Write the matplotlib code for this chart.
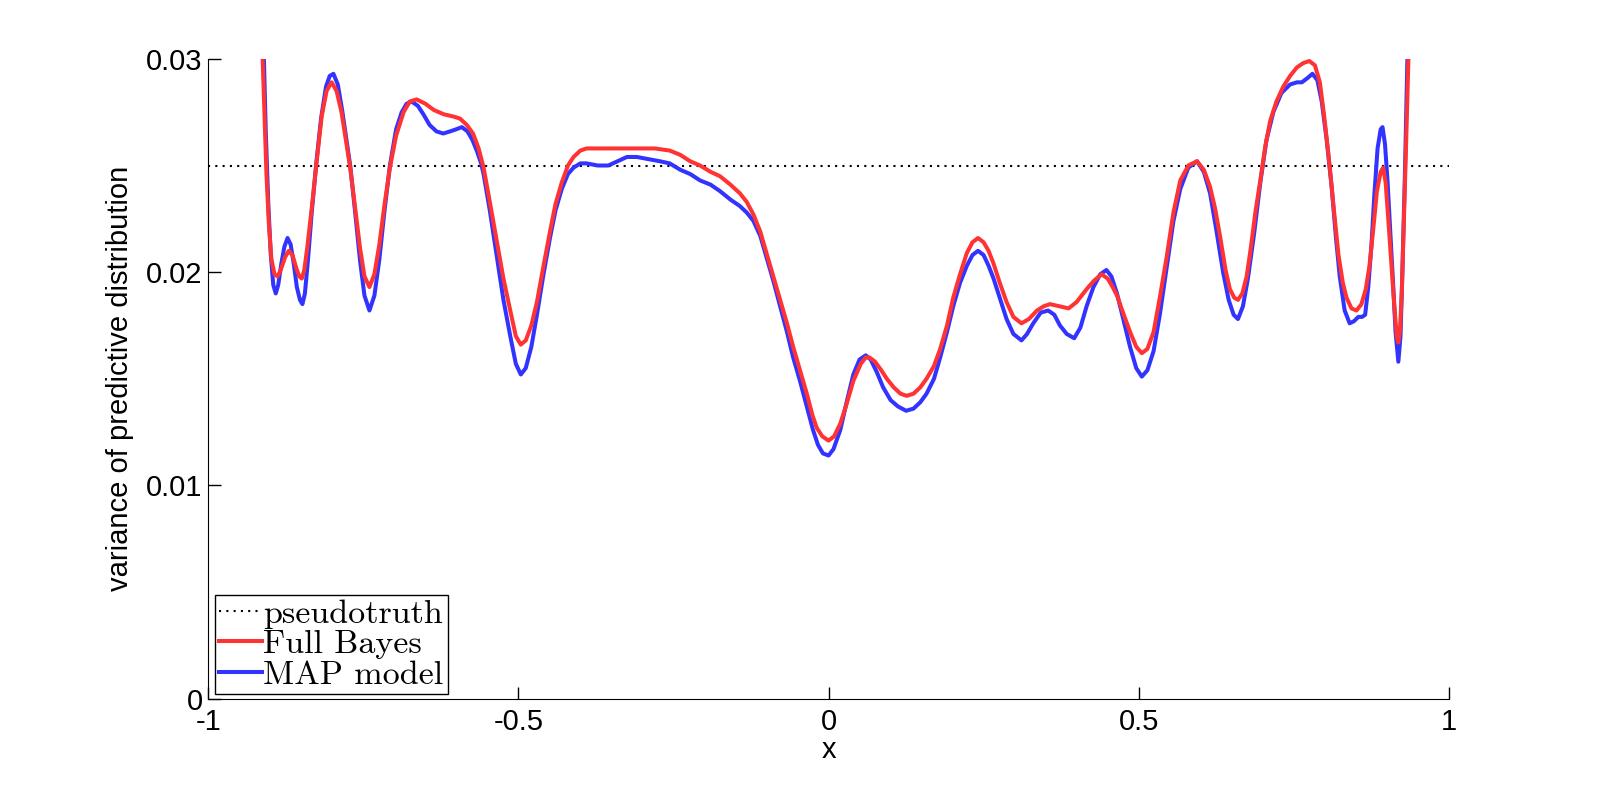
import numpy as np
import matplotlib
matplotlib.use("Agg")
from matplotlib import pyplot as plt

# values
pseudotruth = 0.025

x_full = [-0.915, -0.912, -0.909, -0.906, -0.902, -0.898, -0.893, -0.888, -0.883, -0.876,
          -0.870, -0.864, -0.858, -0.853, -0.849, -0.845, -0.840, -0.833, -0.825, -0.817,
          -0.809, -0.801, -0.793, -0.785, -0.778, -0.771, -0.763, -0.755, -0.748, -0.740,
          -0.732, -0.724, -0.716, -0.707, -0.697, -0.685, -0.675, -0.664, -0.650, -0.636,
          -0.620, -0.605, -0.594, -0.583, -0.573, -0.564, -0.556, -0.546, -0.535, -0.524,
          -0.513, -0.504, -0.496, -0.488, -0.479, -0.470, -0.460, -0.449, -0.440, -0.430,
          -0.420, -0.411, -0.400, -0.390, -0.370, -0.350, -0.325, -0.304, -0.280, -0.256,
          -0.239, -0.223, -0.207, -0.190, -0.175, -0.158, -0.143, -0.132, -0.121, -0.110,
          -0.100, -0.089, -0.078, -0.067, -0.057, -0.046, -0.035, -0.026, -0.019, -0.010,
          0.000, 0.009, 0.019, 0.030, 0.040, 0.052, 0.060, 0.066, 0.075, 0.085,
          0.094, 0.105, 0.116, 0.126, 0.137, 0.148, 0.158, 0.170, 0.180, 0.191,
          0.201, 0.212, 0.223, 0.232, 0.241, 0.250, 0.258, 0.266, 0.276, 0.287,
          0.298, 0.311, 0.323, 0.336, 0.347, 0.357, 0.372, 0.387, 0.400, 0.416,
          0.428, 0.440, 0.450, 0.458, 0.465, 0.476, 0.486, 0.496, 0.505, 0.514,
          0.524, 0.534, 0.545, 0.556, 0.567, 0.580, 0.594, 0.605, 0.615, 0.623,
          0.631, 0.640, 0.647, 0.654, 0.660, 0.667, 0.674, 0.681, 0.688, 0.696,
          0.704, 0.712, 0.722, 0.733, 0.744, 0.755, 0.765, 0.775, 0.784, 0.792,
          0.799, 0.804, 0.808, 0.815, 0.822, 0.829, 0.835, 0.843, 0.851, 0.859,
          0.866, 0.872, 0.878, 0.884, 0.890, 0.894, 0.898, 0.902, 0.907, 0.912,
          0.916, 0.9185, 0.921, 0.924, 0.927, 0.931, 0.9346, 0.937]
y_full = [0.0315, 0.0299, 0.0272, 0.0246, 0.0222, 0.0206, 0.0199, 0.0198, 0.0201, 0.0207,
          0.0210, 0.0208, 0.0202, 0.0198, 0.0197, 0.0201, 0.0212, 0.0230, 0.0252, 0.0273,
          0.0285, 0.0289, 0.0285, 0.0275, 0.0262, 0.0249, 0.0230, 0.0211, 0.0198, 0.0193,
          0.0199, 0.0213, 0.0231, 0.0249, 0.0264, 0.0275, 0.0280, 0.0281, 0.0279, 0.0276,
          0.0274, 0.0273, 0.0272, 0.0269, 0.0265, 0.0258, 0.0249, 0.0233, 0.0215, 0.0197,
          0.0182, 0.0170, 0.0166, 0.0168, 0.0175, 0.0186, 0.0202, 0.0219, 0.0232, 0.0242,
          0.0250, 0.0254, 0.0257, 0.0258, 0.0258, 0.0258, 0.0258, 0.0258, 0.0258, 0.0257,
          0.0255, 0.0252, 0.0250, 0.0247, 0.0245, 0.0241, 0.0237, 0.0233, 0.0227, 0.0219,
          0.0209, 0.0198, 0.0187, 0.0176, 0.0165, 0.0154, 0.0143, 0.0133, 0.0127, 0.0123,
          0.0121, 0.0123, 0.0129, 0.0139, 0.0149, 0.0157, 0.0160, 0.0160, 0.0158, 0.0154,
          0.0150, 0.0146, 0.0143, 0.0142, 0.0143, 0.0146, 0.0150, 0.0156, 0.0164, 0.0175,
          0.0188, 0.0199, 0.0209, 0.0214, 0.0216, 0.0214, 0.0210, 0.0204, 0.0195, 0.0186,
          0.0179, 0.0176, 0.0178, 0.0182, 0.0184, 0.0185, 0.0184, 0.0183, 0.0186, 0.0192,
          0.0196, 0.0199, 0.0197, 0.0193, 0.0189, 0.0180, 0.0172, 0.0165, 0.0162, 0.0164,
          0.0172, 0.0188, 0.0207, 0.0228, 0.0243, 0.0250, 0.0252, 0.0248, 0.0240, 0.0230,
          0.0217, 0.0201, 0.0192, 0.0188, 0.0187, 0.0190, 0.0198, 0.0212, 0.0228, 0.0243,
          0.0259, 0.0271, 0.0280, 0.0287, 0.0292, 0.0296, 0.0298, 0.0299, 0.0297, 0.0289,
          0.0273, 0.0260, 0.0249, 0.0228, 0.0208, 0.0195, 0.0188, 0.0183, 0.0182, 0.0185,
          0.0192, 0.0203, 0.0220, 0.0238, 0.0247, 0.0249, 0.0242, 0.0226, 0.0205, 0.0184,
          0.0170, 0.0167, 0.0172, 0.0190, 0.0220, 0.0260, 0.0299, 0.0315]

x_map = [-0.913, -0.910, -0.907, -0.903, -0.899, -0.895, -0.891, -0.887, -0.882, -0.877,
         -0.872, -0.867, -0.862, -0.857, -0.852, -0.848, -0.844, -0.839, -0.833, -0.825,
         -0.818, -0.810, -0.804, -0.798, -0.791, -0.784, -0.777, -0.771, -0.763, -0.755,
         -0.748, -0.740, -0.732, -0.724, -0.716, -0.707, -0.697, -0.688, -0.680, -0.672,
         -0.662, -0.653, -0.643, -0.632, -0.621, -0.610, -0.600, -0.591, -0.582, -0.574,
         -0.567, -0.560, -0.556, -0.546, -0.535, -0.524, -0.513, -0.504, -0.496, -0.488,
         -0.479, -0.470, -0.460, -0.449, -0.440, -0.430, -0.420, -0.411, -0.400, -0.390,
         -0.372, -0.355, -0.340, -0.325, -0.309, -0.290, -0.272, -0.256, -0.239, -0.223,
         -0.207, -0.190, -0.175, -0.158, -0.143, -0.132, -0.121, -0.110, -0.100, -0.089,
         -0.078, -0.067, -0.057, -0.046, -0.035, -0.025, -0.017, -0.009, 0.000, 0.008,
         0.019, 0.030, 0.040, 0.050, 0.060, 0.068, 0.078, 0.088, 0.100, 0.112,
         0.125, 0.137, 0.148, 0.158, 0.170, 0.180, 0.191, 0.201, 0.212, 0.223,
         0.232, 0.241, 0.250, 0.258, 0.266, 0.276, 0.287, 0.298, 0.311, 0.320,
         0.330, 0.342, 0.354, 0.364, 0.373, 0.384, 0.396, 0.406, 0.416, 0.427,
         0.438, 0.448, 0.456, 0.465, 0.476, 0.486, 0.496, 0.505, 0.514, 0.524,
         0.534, 0.545, 0.556, 0.567, 0.580, 0.594, 0.605, 0.615, 0.625, 0.636,
         0.645, 0.653, 0.660, 0.668, 0.676, 0.686, 0.696, 0.706, 0.717, 0.730,
         0.744, 0.755, 0.763, 0.772, 0.780, 0.788, 0.795, 0.803, 0.811, 0.818,
         0.824, 0.832, 0.840, 0.847, 0.854, 0.860, 0.865, 0.870, 0.875, 0.880,
         0.885, 0.890, 0.893, 0.897, 0.901, 0.905, 0.910, 0.914, 0.9185, 0.922,
         0.925, 0.929, 0.933, 0.936]
y_map = [0.0315, 0.0299, 0.0265, 0.0232, 0.0208, 0.0194, 0.0190, 0.0194, 0.0204, 0.0212,
         0.0216, 0.0213, 0.0204, 0.0193, 0.0187, 0.0185, 0.0190, 0.0206, 0.0228, 0.0253,
         0.0272, 0.0287, 0.0292, 0.0293, 0.0288, 0.0276, 0.0262, 0.0250, 0.0228, 0.0205,
         0.0189, 0.0182, 0.0189, 0.0206, 0.0228, 0.0250, 0.0267, 0.0275, 0.0279, 0.0280,
         0.0278, 0.0274, 0.0269, 0.0266, 0.0265, 0.0266, 0.0267, 0.0268, 0.0266, 0.0262,
         0.0257, 0.0251, 0.0246, 0.0229, 0.0208, 0.0187, 0.0170, 0.0157, 0.0152, 0.0155,
         0.0165, 0.0180, 0.0198, 0.0216, 0.0229, 0.0239, 0.0246, 0.0249, 0.0251, 0.0251,
         0.0250, 0.0250, 0.0252, 0.0254, 0.0254, 0.0253, 0.0252, 0.0251, 0.0248, 0.0246,
         0.0243, 0.0241, 0.0238, 0.0234, 0.0231, 0.0228, 0.0224, 0.0217, 0.0207, 0.0196,
         0.0184, 0.0172, 0.0160, 0.0149, 0.0137, 0.0126, 0.0119, 0.0115, 0.0114, 0.0117,
         0.0126, 0.0140, 0.0152, 0.0159, 0.0161, 0.0159, 0.0153, 0.0146, 0.0140, 0.0137,
         0.0135, 0.0136, 0.0139, 0.0143, 0.0150, 0.0160, 0.0172, 0.0184, 0.0195, 0.0203,
         0.0208, 0.0210, 0.0208, 0.0203, 0.0197, 0.0188, 0.0178, 0.0171, 0.0168, 0.0171,
         0.0176, 0.0181, 0.0182, 0.0180, 0.0175, 0.0171, 0.0169, 0.0174, 0.0184, 0.0193,
         0.0199, 0.0201, 0.0198, 0.0190, 0.0177, 0.0165, 0.0155, 0.0151, 0.0154, 0.0163,
         0.0180, 0.0202, 0.0224, 0.0239, 0.0249, 0.0252, 0.0247, 0.0237, 0.0220, 0.0200,
         0.0187, 0.0180, 0.0178, 0.0184, 0.0197, 0.0218, 0.0242, 0.0262, 0.0275, 0.0284,
         0.0288, 0.0289, 0.0289, 0.0291, 0.0293, 0.0290, 0.0280, 0.0262, 0.0240, 0.0216,
         0.0198, 0.0182, 0.0176, 0.0177, 0.0179, 0.0179, 0.0180, 0.0193, 0.0212, 0.0237,
         0.0258, 0.0267, 0.0268, 0.0260, 0.0243, 0.0222, 0.0195, 0.0172, 0.0158, 0.0170,
         0.0200, 0.0245, 0.0299, 0.0315]

x_ticks = [-1, -0.5, 0, 0.5, 1]
x_ticklabels = ['-1', '-0.5', '0', '0.5', '1']
y_ticks = [0, 0.01, 0.02, 0.03]
y_ticklabels = ['0', '0.01', '0.02', '0.03']

plt.rcParams['font.family'] = ['Liberation Sans', 'DejaVu Sans']

fig = plt.figure(figsize=(16.01, 7.85), dpi=100)
ax = fig.add_axes([0.13, 0.11, 0.775, 0.815])

h_truth, = ax.plot([-1, 1], [pseudotruth, pseudotruth], color='black',
                   linestyle=(0, (1, 2.5)), linewidth=1.5, zorder=1)
h_map, = ax.plot(x_map, y_map, color='#3333ff', linewidth=2.9, zorder=2)
h_full, = ax.plot(x_full, y_full, color='#ff3333', linewidth=2.9, zorder=3)

ax.set_xlim(-1, 1)
ax.set_ylim(0, 0.03)
ax.set_xticks(x_ticks)
ax.set_xticklabels(x_ticklabels)
ax.set_yticks(y_ticks)
ax.set_yticklabels(y_ticklabels)
ax.tick_params(direction='in', length=9, width=1, labelsize=21)
ax.tick_params(axis='x', pad=7)
ax.tick_params(axis='y', pad=4)
ax.spines['top'].set_visible(False)
ax.spines['right'].set_visible(False)
ax.set_xlabel('x', fontsize=21, labelpad=0)
ax.set_ylabel('variance of predictive distribution', fontsize=21, labelpad=9)

leg = ax.legend([h_truth, h_full, h_map], ['pseudotruth', 'Full Bayes', 'MAP model'],
                loc='lower left', bbox_to_anchor=(0.0056, 0.0078),
                prop={'family': 'cmr10', 'size': 24.5}, frameon=True, fancybox=False,
                edgecolor='black', framealpha=1, borderpad=0.12, labelspacing=0.02,
                handlelength=1.25, handletextpad=0.05, borderaxespad=0)
leg.get_frame().set_linewidth(1)

fig.savefig('out.png', dpi=100)
